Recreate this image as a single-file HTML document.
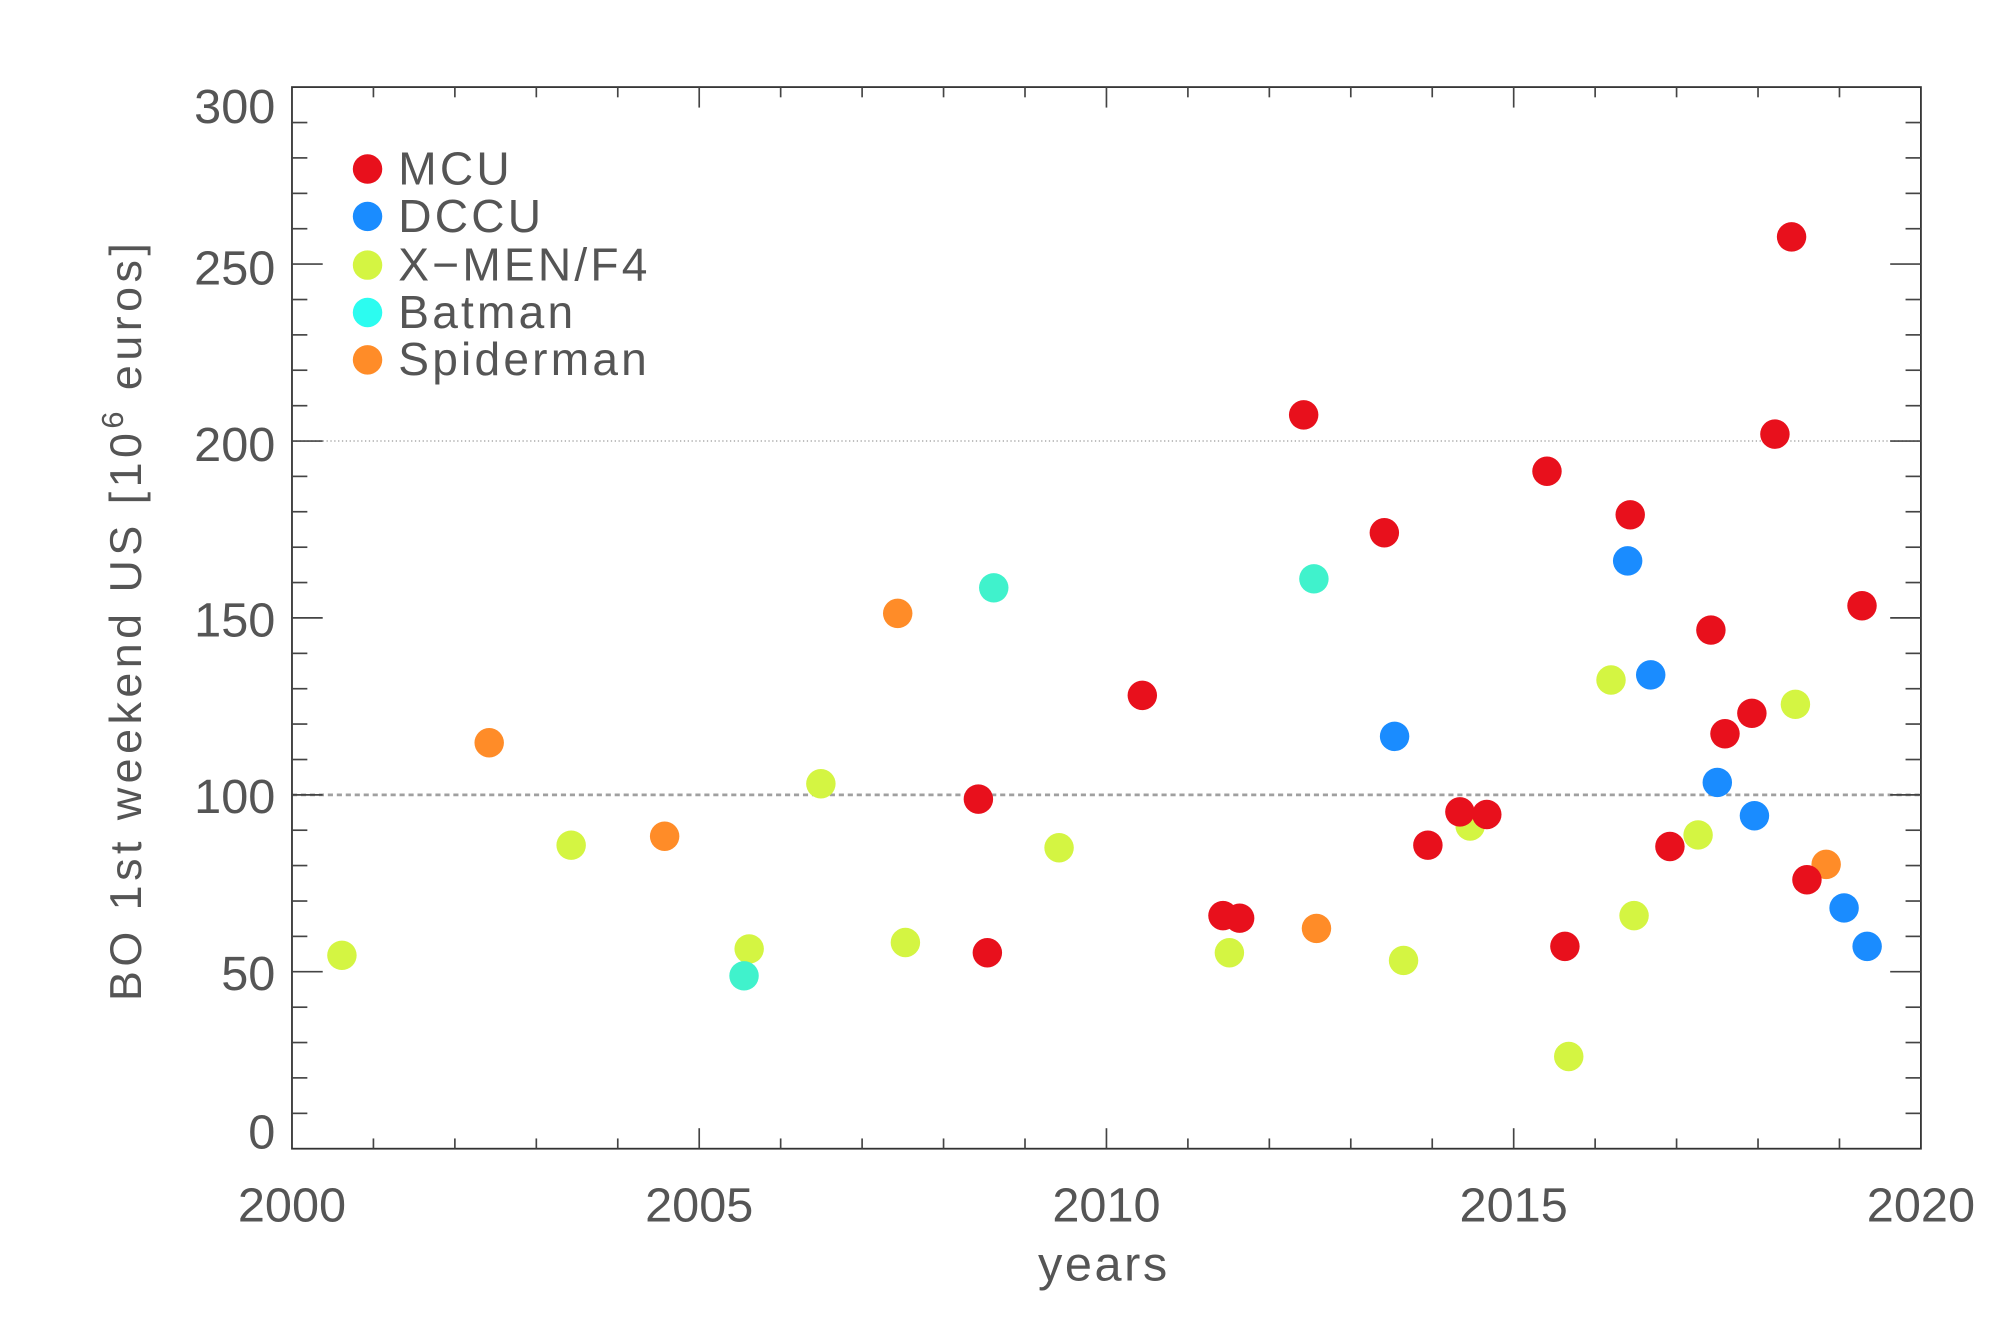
<!DOCTYPE html>
<html><head><meta charset="utf-8"><style>
html,body{margin:0;padding:0;background:#fff;}
svg{display:block;}
text{font-family:"Liberation Sans",sans-serif;fill:#555;}
</style></head><body>
<svg width="2008" height="1334" viewBox="0 0 1568 1041.7" preserveAspectRatio="none" xmlns="http://www.w3.org/2000/svg">
<rect x="0" y="0" width="1568" height="1042" fill="#fff"/>
<line x1="228" y1="344.4" x2="1500" y2="344.4" stroke="#aaa" stroke-width="1.2" stroke-dasharray="1,2"/>
<line x1="228" y1="620.7" x2="1500" y2="620.7" stroke="#a0a0a0" stroke-width="2.2" stroke-dasharray="4,3"/>
<rect x="228" y="68" width="1272" height="829" fill="none" stroke="#333" stroke-width="1.4"/>
<g stroke="#444" stroke-width="1.3">
<g id="xt">
<line x1="291.6" y1="897" x2="291.6" y2="889"/><line x1="355.2" y1="897" x2="355.2" y2="889"/><line x1="418.8" y1="897" x2="418.8" y2="889"/><line x1="482.4" y1="897" x2="482.4" y2="889"/><line x1="546" y1="897" x2="546" y2="881"/>
<line x1="609.6" y1="897" x2="609.6" y2="889"/><line x1="673.2" y1="897" x2="673.2" y2="889"/><line x1="736.8" y1="897" x2="736.8" y2="889"/><line x1="800.4" y1="897" x2="800.4" y2="889"/><line x1="864" y1="897" x2="864" y2="881"/>
<line x1="927.6" y1="897" x2="927.6" y2="889"/><line x1="991.2" y1="897" x2="991.2" y2="889"/><line x1="1054.8" y1="897" x2="1054.8" y2="889"/><line x1="1118.4" y1="897" x2="1118.4" y2="889"/><line x1="1182" y1="897" x2="1182" y2="881"/>
<line x1="1245.6" y1="897" x2="1245.6" y2="889"/><line x1="1309.2" y1="897" x2="1309.2" y2="889"/><line x1="1372.8" y1="897" x2="1372.8" y2="889"/><line x1="1436.4" y1="897" x2="1436.4" y2="889"/>
</g>
<g transform="translate(0,965) scale(1,-1)"><use href="#xt"/></g>
<g id="yt">
<line x1="228" y1="869.4" x2="240" y2="869.4"/><line x1="228" y1="841.7" x2="240" y2="841.7"/><line x1="228" y1="814.1" x2="240" y2="814.1"/><line x1="228" y1="786.5" x2="240" y2="786.5"/><line x1="228" y1="758.8" x2="252" y2="758.8"/>
<line x1="228" y1="731.2" x2="240" y2="731.2"/><line x1="228" y1="703.6" x2="240" y2="703.6"/><line x1="228" y1="675.9" x2="240" y2="675.9"/><line x1="228" y1="648.3" x2="240" y2="648.3"/><line x1="228" y1="620.7" x2="252" y2="620.7"/>
<line x1="228" y1="593.1" x2="240" y2="593.1"/><line x1="228" y1="565.4" x2="240" y2="565.4"/><line x1="228" y1="537.8" x2="240" y2="537.8"/><line x1="228" y1="510.2" x2="240" y2="510.2"/><line x1="228" y1="482.5" x2="252" y2="482.5"/>
<line x1="228" y1="454.9" x2="240" y2="454.9"/><line x1="228" y1="427.3" x2="240" y2="427.3"/><line x1="228" y1="399.6" x2="240" y2="399.6"/><line x1="228" y1="372" x2="240" y2="372"/><line x1="228" y1="344.4" x2="252" y2="344.4"/>
<line x1="228" y1="316.8" x2="240" y2="316.8"/><line x1="228" y1="289.1" x2="240" y2="289.1"/><line x1="228" y1="261.5" x2="240" y2="261.5"/><line x1="228" y1="233.9" x2="240" y2="233.9"/><line x1="228" y1="206.2" x2="252" y2="206.2"/>
<line x1="228" y1="178.6" x2="240" y2="178.6"/><line x1="228" y1="151" x2="240" y2="151"/><line x1="228" y1="123.3" x2="240" y2="123.3"/><line x1="228" y1="95.7" x2="240" y2="95.7"/>
</g>
<g transform="translate(1728,0) scale(-1,1)"><use href="#yt"/></g>
</g>
<g font-size="38" text-anchor="end">
<text x="215" y="96">300</text><text x="215" y="222">250</text><text x="215" y="360">200</text><text x="215" y="497">150</text><text x="215" y="635">100</text><text x="215" y="773">50</text><text x="215" y="897">0</text>
</g>
<g font-size="38" text-anchor="middle">
<text x="228" y="954">2000</text><text x="546" y="954">2005</text><text x="864" y="954">2010</text><text x="1182" y="954">2015</text><text x="1500" y="954">2020</text>
<text x="862" y="1000" letter-spacing="2">years</text>
</g>
<text transform="translate(110,484) rotate(-90)" font-size="35" text-anchor="middle" letter-spacing="3.5">BO 1st weekend US [10<tspan dy="-14" font-size="24">6</tspan><tspan dy="14"> euros]</tspan></text>
<g font-size="36" letter-spacing="2.5">
<circle cx="287" cy="132" r="11.5" fill="#e8101c"/><text x="311" y="144">MCU</text>
<circle cx="287" cy="169" r="11.5" fill="#1a8cff"/><text x="311" y="181">DCCU</text>
<circle cx="287" cy="207" r="11.5" fill="#d4f542"/><text x="311" y="219">X−MEN/F4</text>
<circle cx="287" cy="244" r="11.5" fill="#2cfcf0"/><text x="311" y="256">Batman</text>
<circle cx="287" cy="281" r="11.5" fill="#ff8c28"/><text x="311" y="293">Spiderman</text>
</g>
<g fill="#d4f542">
<circle cx="267" cy="746" r="11.5"/><circle cx="446" cy="660" r="11.5"/><circle cx="585" cy="741" r="11.5"/><circle cx="641" cy="612" r="11.5"/><circle cx="707" cy="736" r="11.5"/><circle cx="827" cy="662" r="11.5"/><circle cx="960" cy="744" r="11.5"/><circle cx="1096" cy="750" r="11.5"/><circle cx="1148" cy="645" r="11.5"/><circle cx="1225" cy="825" r="11.5"/><circle cx="1258" cy="531" r="11.5"/><circle cx="1276" cy="715" r="11.5"/><circle cx="1326" cy="652" r="11.5"/><circle cx="1402" cy="550" r="11.5"/>
</g>
<g fill="#40f2cc">
<circle cx="581" cy="762" r="11.5"/><circle cx="776" cy="459" r="11.5"/><circle cx="1026" cy="452" r="11.5"/>
</g>
<g fill="#ff8c28">
<circle cx="382" cy="580" r="11.5"/><circle cx="519" cy="653" r="11.5"/><circle cx="701" cy="479" r="11.5"/><circle cx="1028" cy="725" r="11.5"/><circle cx="1426" cy="675" r="11.5"/>
</g>
<g fill="#1a8cff">
<circle cx="1089" cy="575" r="11.5"/><circle cx="1271" cy="438" r="11.5"/><circle cx="1289" cy="527" r="11.5"/><circle cx="1341" cy="611" r="11.5"/><circle cx="1370" cy="637" r="11.5"/><circle cx="1440" cy="709" r="11.5"/><circle cx="1458" cy="739" r="11.5"/>
</g>
<g fill="#e8101c">
<circle cx="1018" cy="324" r="11.5"/><circle cx="1081" cy="416" r="11.5"/><circle cx="892" cy="543" r="11.5"/><circle cx="764" cy="624" r="11.5"/><circle cx="771" cy="744" r="11.5"/><circle cx="955" cy="715" r="11.5"/><circle cx="968" cy="717" r="11.5"/><circle cx="1208" cy="368" r="11.5"/><circle cx="1273" cy="402" r="11.5"/><circle cx="1336" cy="492" r="11.5"/><circle cx="1347" cy="573" r="11.5"/><circle cx="1368" cy="557" r="11.5"/><circle cx="1386" cy="339" r="11.5"/><circle cx="1399" cy="185" r="11.5"/><circle cx="1411" cy="687" r="11.5"/><circle cx="1454" cy="473" r="11.5"/><circle cx="1304" cy="661" r="11.5"/><circle cx="1222" cy="739" r="11.5"/><circle cx="1115" cy="660" r="11.5"/><circle cx="1140" cy="634" r="11.5"/><circle cx="1161" cy="636" r="11.5"/>
</g>
</svg>
</body></html>
